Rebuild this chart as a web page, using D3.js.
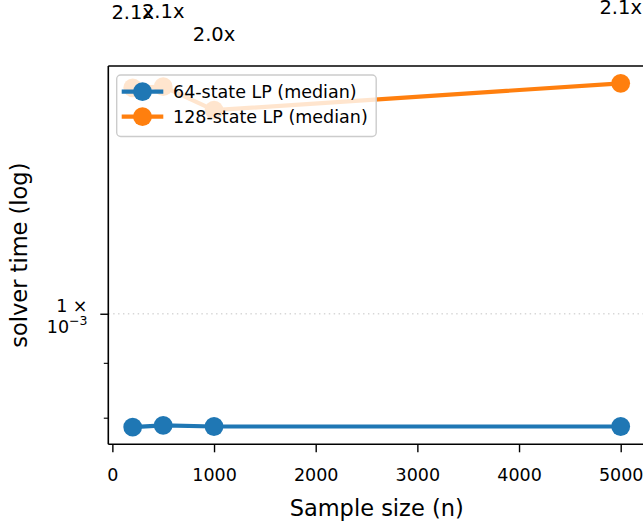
<!DOCTYPE html>
<html><head><meta charset="utf-8">
<script src="https://cdn.jsdelivr.net/npm/d3@7"></script>
<style>body{margin:0;background:#fff}svg{display:block}text{font-family:"DejaVu Sans",sans-serif}</style>
</head><body><div id="chart"></div>
<script>
const sampleSizes = [200, 500, 1000, 5000];
const time64 = [7.84e-4, 7.87e-4, 7.85e-4, 7.85e-4];
const time128 = [1.624e-3, 1.628e-3, 1.548e-3, 1.640e-3];
const ratioLabels = ["2.1x", "2.1x", "2.0x", "2.1x"];
const seriesNames = ["64-state LP (median)", "128-state LP (median)"];
const seriesColors = ["#1f77b4", "#ff7f0e"];
const xTicks = [0, 1000, 2000, 3000, 4000, 5000];
const yMajorTicks = [1e-3];
const yMinorTicks = [9e-4, 8e-4];
const xDomain = [-40, 5240];
const yDomain = [7.556e-4, 1.702e-3];

const W = 643, H = 524;
const plot = {left: 108.3, right: 645.1, top: 66, bottom: 444.3};
const svg = d3.select("#chart").append("svg").attr("width", W).attr("height", H);
const x = d3.scaleLinear().domain(xDomain).range([plot.left, plot.right]);
const y = d3.scaleLog().domain(yDomain).range([plot.bottom, plot.top]);

// grid at major y tick
svg.selectAll(".grid").data(yMajorTicks).enter().append("line")
  .attr("x1", plot.left).attr("x2", plot.right)
  .attr("y1", d => y(d)).attr("y2", d => y(d))
  .attr("stroke", "#b0b0b0").attr("stroke-opacity", 0.5)
  .attr("stroke-width", 1.4).attr("stroke-dasharray", "1.4,3.5");

// x axis
const xAxis = d3.axisBottom(x).tickValues(xTicks).tickFormat(d3.format("d"))
  .tickSize(8).tickPadding(6);
const gx = svg.append("g").attr("transform", `translate(0,${plot.bottom})`).call(xAxis);
gx.select(".domain").remove();
gx.selectAll(".tick line").attr("stroke", "#000").attr("stroke-width", 1.4);
gx.selectAll(".tick text").attr("font-size", 17.5).attr("fill", "#000")
  .attr("dy", null).attr("y", 0)
  .attr("transform", "translate(0,36.5)");

// y axis major/minor ticks
const gy = svg.append("g").attr("transform", `translate(${plot.left},0)`);
gy.call(d3.axisLeft(y).tickValues(yMajorTicks).tickSize(8).tickFormat(""));
gy.select(".domain").remove();
gy.selectAll(".tick line").attr("stroke", "#000").attr("stroke-width", 1.4);
const gyMinor = svg.append("g").attr("transform", `translate(${plot.left},0)`);
gyMinor.call(d3.axisLeft(y).tickValues(yMinorTicks).tickSize(4.5).tickFormat(""));
gyMinor.select(".domain").remove();
gyMinor.selectAll(".tick line").attr("stroke", "#000").attr("stroke-width", 1.1);

// y tick label (mathtext style)
yMajorTicks.forEach(v => {
  const exp = Math.round(Math.log10(v));
  const mant = v / Math.pow(10, exp);
  const yy = y(v);
  svg.append("text").attr("x", 87.5).attr("y", yy - 2).attr("text-anchor", "end")
    .attr("font-size", 17.5).text(`${mant} ×`);
  const t2 = svg.append("text").attr("x", 87.5).attr("y", yy + 19.5).attr("text-anchor", "end")
    .attr("font-size", 17.5);
  t2.append("tspan").text("10");
  t2.append("tspan").attr("font-size", 12.5).attr("dy", -8).text("−" + Math.abs(exp));
});

// spines
svg.append("line").attr("x1", plot.left).attr("x2", plot.left).attr("y1", plot.top).attr("y2", plot.bottom)
  .attr("stroke", "#000").attr("stroke-width", 1.6);
svg.append("line").attr("x1", plot.left).attr("x2", plot.right).attr("y1", plot.bottom).attr("y2", plot.bottom)
  .attr("stroke", "#000").attr("stroke-width", 1.6);
svg.append("line").attr("x1", plot.left).attr("x2", plot.right).attr("y1", plot.top).attr("y2", plot.top)
  .attr("stroke", "#000").attr("stroke-width", 1.6);

// series
const series = [time64, time128];
const line = d3.line().x(d => x(d[0])).y(d => y(d[1]));
series.forEach((vals, i) => {
  const pts = sampleSizes.map((n, j) => [n, vals[j]]);
  svg.append("path").attr("d", line(pts)).attr("fill", "none")
    .attr("stroke", seriesColors[i]).attr("stroke-width", 4.2).attr("stroke-linejoin", "round");
  svg.selectAll(".m" + i).data(pts).enter().append("circle")
    .attr("cx", d => x(d[0])).attr("cy", d => y(d[1])).attr("r", 9.4)
    .attr("fill", seriesColors[i]);
});

// ratio annotations
sampleSizes.forEach((n, j) => {
  svg.append("text").attr("x", x(n)).attr("y", y(time128[j] * 1.15) - 4)
    .attr("text-anchor", "middle").attr("font-size", 19.5).attr("fill", "#000")
    .text(ratioLabels[j]);
});

// legend
const lg = svg.append("g");
lg.append("rect").attr("x", 116.7).attr("y", 75).attr("width", 259.5).attr("height", 61.5)
  .attr("rx", 4).attr("fill", "#fff").attr("fill-opacity", 0.8)
  .attr("stroke", "#cccccc").attr("stroke-width", 1.4);
seriesNames.forEach((name, i) => {
  const cy = 91.7 + i * 25;
  lg.append("line").attr("x1", 121.7).attr("x2", 163.3).attr("y1", cy).attr("y2", cy)
    .attr("stroke", seriesColors[i]).attr("stroke-width", 4.2);
  lg.append("circle").attr("cx", 142.5).attr("cy", cy).attr("r", 9.4).attr("fill", seriesColors[i]);
  lg.append("text").attr("x", 173).attr("y", cy + 6.3).attr("font-size", 17.5).text(name);
});

// axis labels
svg.append("text").attr("x", (plot.left + plot.right) / 2).attr("y", 516)
  .attr("text-anchor", "middle").attr("font-size", 22.5).text("Sample size (n)");
svg.append("text").attr("transform", `translate(27,${(plot.top + plot.bottom) / 2}) rotate(-90)`)
  .attr("text-anchor", "middle").attr("font-size", 22.5).text("solver time (log)");
</script></body></html>
